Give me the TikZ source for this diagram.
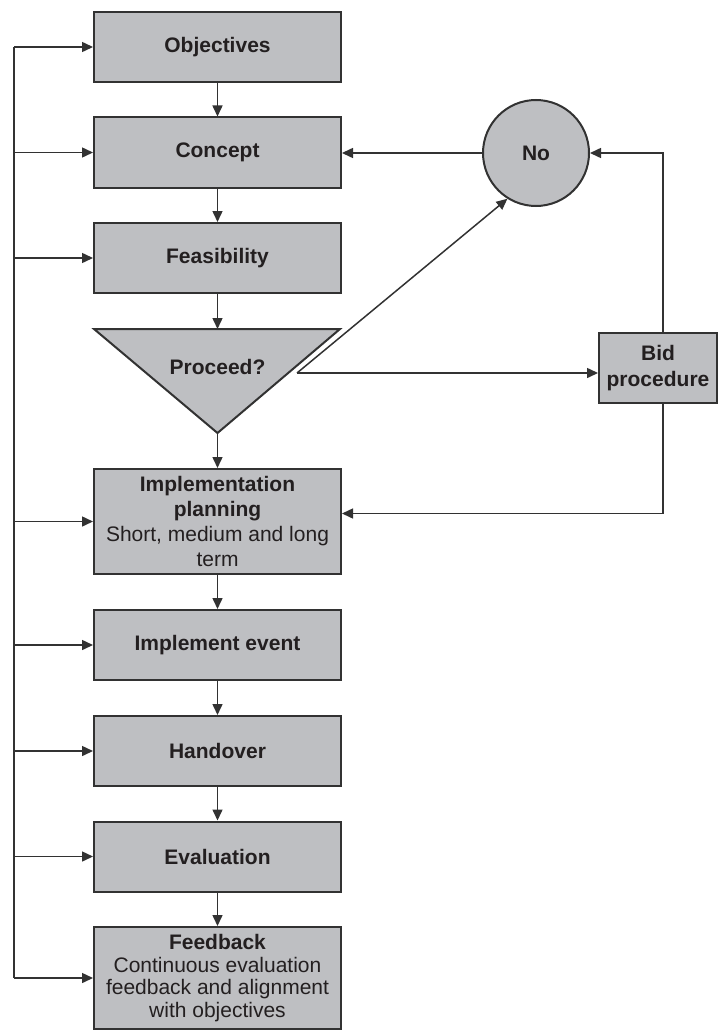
\documentclass[tikz,border=0pt]{standalone}
\usepackage{fontspec}
\setmainfont{Liberation Sans}
\usetikzlibrary{positioning, arrows.meta}

\definecolor{boxgray}{RGB}{190,191,194}
\definecolor{linegray}{RGB}{50,50,50}
\definecolor{textdark}{RGB}{35,31,32}
\newcommand{\stagefont}{\fontsize{21}{25}\selectfont}

\tikzset{
	stage/.style={draw=linegray, line width=2pt, fill=boxgray, text=textdark,
		minimum width=247pt, minimum height=70pt, inner sep=0pt,
		align=center, font=\stagefont\bfseries},
	arr/.style={draw=linegray, line width=1.5pt, -{Triangle[length=11pt, width=10pt]}},
}

\begin{document}
\begin{tikzpicture}[x=1pt, y=-1pt]
	\useasboundingbox (0,0) rectangle (718,1030);

	% main column
	\node[stage] (obj) at (217.5,47) {Objectives};
	\node[stage] (con) at (217.5,152.5) {Concept};
	\node[stage] (fea) at (217.5,258) {Feasibility};
	\coordinate (tritop) at (217.5,329);
	\coordinate (triapex) at (217.5,433);
	\filldraw[draw=linegray, line width=2pt, fill=boxgray] (94,329) -- (340,329) -- (triapex) -- cycle;
	\node[text=textdark, font=\stagefont\bfseries] (proceed) at (217.5,367) {Proceed?};
	\node[stage, minimum height=105pt, font=\stagefont] (impl) at (217.5,521.5)
		{\textbf{Implementation}\\\textbf{planning}\\Short, medium and long\\term};
	\node[stage] (ev) at (217.5,645) {Implement event};
	\node[stage] (hand) at (217.5,751) {Handover};
	\node[stage] (eval) at (217.5,856.5) {Evaluation};
	\node[stage, minimum height=102pt, font=\fontsize{21}{22.5}\selectfont] (fb) at (217.5,978)
		{\textbf{Feedback}\\Continuous evaluation\\feedback and alignment\\with objectives};

	% right side
	\node[stage, circle, minimum width=0pt, minimum size=106pt] (no) at (536,153) {No};
	\node[stage, minimum width=118pt, font=\fontsize{21}{26}\selectfont\bfseries] (bid) at (658,368) {Bid\\procedure};

	\draw[arr] (obj) -- (con);
	\draw[arr] (con) -- (fea);
	\draw[arr] (fea) -- (tritop);
	\draw[arr] (triapex) -- (impl);
	\draw[arr] (impl) -- (ev);
	\draw[arr] (ev) -- (hand);
	\draw[arr] (hand) -- (eval);
	\draw[arr] (eval) -- (fb);

	% feedback bus on the left
	\coordinate (bus) at (14,47);
	\draw[draw=linegray, line width=1.5pt] (bus) -- (bus |- fb.west);
	\foreach \n in {obj,con,fea,impl,ev,hand,eval,fb}
		\draw[arr] (bus |- \n.west) -- (\n.west);

	% decision branches
	\coordinate (fork) at (297,373);
	\draw[arr] (fork) -- (no.238);
	\draw[arr] (fork) -- (fork -| bid.west);
	\draw[arr] (no.west) -- (no.west -| con.east);
	\draw[arr] ([xshift=5pt]bid.north) |- (no.east);
	\draw[arr] ([xshift=5pt]bid.south) |- ([yshift=8pt]impl.east);
\end{tikzpicture}
\end{document}
